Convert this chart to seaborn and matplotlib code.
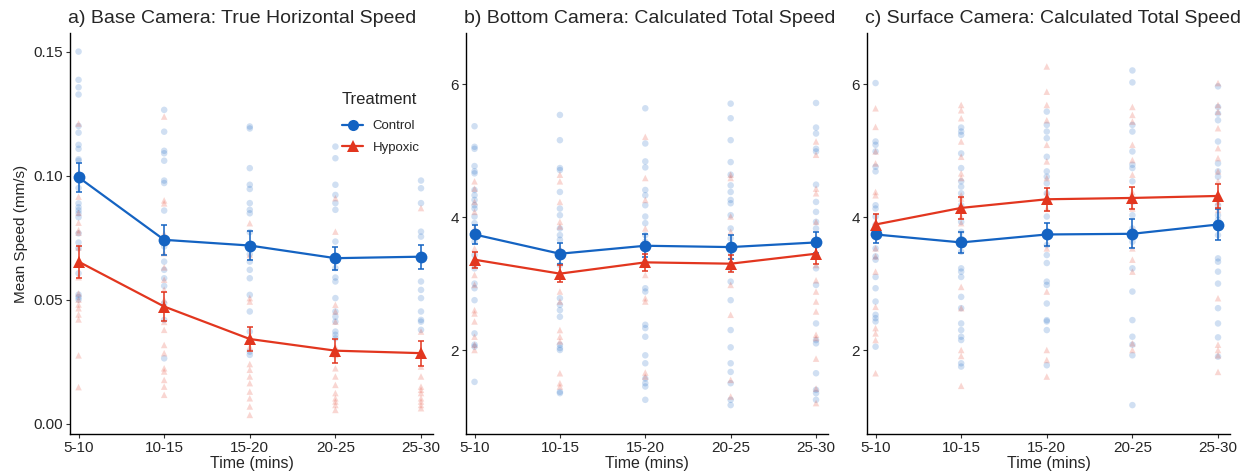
import numpy as np
import pandas as pd
import matplotlib
matplotlib.use("Agg")
import matplotlib.pyplot as plt
from matplotlib.lines import Line2D
import seaborn as sns

# ---------------------------------------------------------------- data
times = ["5-10", "10-15", "15-20", "20-25", "25-30"]
groups = ["Control", "Hypoxic"]

titles = [
    "a) Base Camera: True Horizontal Speed",
    "b) Bottom Camera: Calculated Total Speed",
    "c) Surface Camera: Calculated Total Speed",
]

# individual fish speeds, one list per time bin
base_control = [
    [0.150, 0.1386, 0.1356, 0.1327, 0.120, 0.1173, 0.1124, 0.1108, 0.1066, 0.106, 0.1003, 0.098,
     0.095, 0.0888, 0.0872, 0.086, 0.0848, 0.0832, 0.0767, 0.073, 0.0707, 0.0606, 0.052, 0.051, 0.050],
    [0.1265, 0.1177, 0.110, 0.109, 0.106, 0.098, 0.097, 0.0859, 0.074, 0.0714, 0.0653, 0.062,
     0.0586, 0.0555, 0.0485, 0.0418, 0.0263],
    [0.1198, 0.119, 0.103, 0.0963, 0.0946, 0.0889, 0.0862, 0.0848, 0.0772, 0.0683, 0.0653, 0.062,
     0.0586, 0.0519, 0.0452, 0.0371, 0.029, 0.0277],
    [0.1117, 0.107, 0.0963, 0.0922, 0.0889, 0.0862, 0.0734, 0.0627, 0.0589, 0.0573, 0.0506, 0.0452,
     0.0431, 0.0411, 0.0371, 0.0358, 0.0344],
    [0.098, 0.0949, 0.0889, 0.0774, 0.0754, 0.0673, 0.0573, 0.0539, 0.0506, 0.0452, 0.0418, 0.0411,
     0.0378],
]
base_hypoxic = [
    [0.121, 0.101, 0.0915, 0.085, 0.081, 0.078, 0.077, 0.071, 0.059, 0.0525, 0.050, 0.048, 0.0465,
     0.044, 0.042, 0.0275, 0.0147],
    [0.1238, 0.090, 0.0888, 0.0767, 0.074, 0.0687, 0.063, 0.058, 0.054, 0.050, 0.0465, 0.041, 0.0378,
     0.0317, 0.0284, 0.0223, 0.021, 0.0176, 0.0149, 0.0116],
    [0.0808, 0.068, 0.0506, 0.0492, 0.031, 0.024, 0.0217, 0.019, 0.0163, 0.0129, 0.0102, 0.0069,
     0.0035],
    [0.0909, 0.0774, 0.0479, 0.0452, 0.0411, 0.031, 0.0277, 0.0223, 0.019, 0.0156, 0.0123, 0.0102,
     0.0089, 0.0075, 0.0055],
    [0.0869, 0.0371, 0.023, 0.019, 0.0149, 0.0136, 0.0123, 0.0102, 0.0089, 0.0075, 0.0062],
]

bottom_control = [
    [5.37, 5.06, 5.03, 4.77, 4.69, 4.66, 4.41, 4.33, 4.26, 4.18, 4.13, 4.01, 3.91, 3.73, 3.63, 3.43,
     3.23, 3.00, 2.93, 2.75, 2.25, 2.08, 2.05, 1.52],
    [5.54, 5.16, 4.74, 4.71, 4.38, 4.13, 4.03, 3.83, 3.73, 3.66, 3.48, 3.28, 2.78, 2.68, 2.60, 2.50,
     2.08, 2.03, 2.00, 1.37, 1.35],
    [5.64, 5.11, 4.84, 4.75, 4.41, 4.33, 4.18, 4.01, 3.91, 3.73, 3.63, 3.33, 2.93, 2.88, 2.38, 2.33,
     2.20, 1.92, 1.80, 1.57, 1.50, 1.45, 1.25],
    [5.71, 5.49, 5.16, 4.83, 4.64, 4.48, 4.38, 4.26, 4.21, 4.03, 3.83, 3.68, 3.48, 3.23, 3.03, 2.75,
     2.30, 2.04, 1.80, 1.67, 1.50, 1.25, 1.17],
    [5.72, 5.35, 5.26, 5.03, 4.99, 4.49, 4.23, 4.08, 3.93, 3.83, 3.63, 3.43, 3.23, 2.98, 2.40, 2.15,
     2.10, 1.65, 1.40, 1.35, 1.25],
]
bottom_hypoxic = [
    [4.54, 4.43, 4.23, 4.08, 3.83, 3.53, 3.28, 3.13, 2.98, 2.60, 2.55, 2.43, 2.20, 2.08, 2.00],
    [4.64, 4.54, 4.23, 3.93, 3.86, 3.53, 3.13, 2.88, 2.73, 2.30, 2.20, 2.13, 1.65, 1.50, 1.45],
    [5.21, 4.59, 4.26, 3.83, 3.53, 3.33, 3.13, 2.78, 2.73, 1.66, 1.60],
    [4.64, 4.59, 4.01, 3.78, 3.41, 3.28, 2.98, 2.53, 1.55, 1.30],
    [5.14, 4.94, 4.43, 4.36, 3.93, 3.68, 3.28, 3.05, 2.88, 2.73, 2.58, 2.23, 2.18, 1.87, 1.42, 1.20],
]

surface_control = [
    [6.02, 5.14, 5.09, 4.99, 4.76, 4.69, 4.18, 4.13, 4.01, 3.88, 3.73, 3.53, 3.41, 3.36, 3.10, 2.93,
     2.73, 2.53, 2.48, 2.43, 2.05],
    [5.35, 5.29, 5.24, 4.96, 4.74, 4.54, 4.46, 4.36, 4.18, 3.93, 3.78, 3.68, 3.48, 3.23, 3.18, 3.10,
     2.80, 2.63, 2.40, 2.30, 2.20, 2.15, 1.80, 1.75],
    [5.59, 5.39, 5.29, 5.19, 4.91, 4.69, 4.61, 4.51, 4.36, 4.01, 3.73, 3.58, 3.43, 3.31, 3.03, 2.98,
     2.70, 2.45, 2.43, 2.30, 1.77],
    [6.21, 6.03, 5.39, 5.29, 4.99, 4.79, 4.74, 4.54, 4.23, 4.03, 3.83, 3.63, 3.23, 2.88, 2.45, 2.20,
     2.08, 1.92, 1.17],
    [5.97, 5.66, 5.56, 5.46, 5.14, 4.81, 4.69, 4.61, 4.18, 4.03, 3.96, 3.73, 3.38, 3.33, 3.18, 3.00,
     2.63, 2.40, 2.19, 1.90],
]
surface_hypoxic = [
    [5.64, 5.36, 4.99, 4.81, 4.38, 4.33, 3.93, 3.53, 3.41, 3.18, 2.65, 2.33, 2.25, 2.15, 1.65],
    [5.69, 5.61, 5.49, 5.14, 4.91, 4.66, 4.59, 4.33, 4.28, 4.13, 4.01, 3.91, 2.95, 2.63, 2.00, 1.91,
     1.46],
    [6.27, 5.89, 5.69, 5.46, 5.09, 4.84, 4.59, 4.38, 4.13, 3.53, 2.88, 2.00, 1.85, 1.60],
    [5.66, 5.54, 5.44, 5.09, 4.86, 4.64, 4.38, 4.13, 3.83, 3.53, 3.36, 3.18, 2.10, 2.00],
    [6.02, 5.69, 5.59, 5.34, 5.04, 4.89, 4.69, 4.54, 4.23, 4.11, 2.78, 2.08, 2.00, 1.92, 1.67],
]

# group means and standard errors per time bin
base_mean_control = [0.0993, 0.0741, 0.0718, 0.0667, 0.0673]
base_se_control = [0.0058, 0.0060, 0.0057, 0.0047, 0.0048]
base_mean_hypoxic = [0.0653, 0.0472, 0.0341, 0.0294, 0.0284]
base_se_hypoxic = [0.0064, 0.0060, 0.0049, 0.0048, 0.0050]

bottom_mean_control = [3.74, 3.45, 3.57, 3.55, 3.62]
bottom_se_control = [0.14, 0.16, 0.17, 0.18, 0.16]
bottom_mean_hypoxic = [3.36, 3.15, 3.32, 3.30, 3.45]
bottom_se_hypoxic = [0.12, 0.13, 0.13, 0.13, 0.15]

surface_mean_control = [3.74, 3.62, 3.74, 3.75, 3.89]
surface_se_control = [0.13, 0.16, 0.18, 0.22, 0.23]
surface_mean_hypoxic = [3.89, 4.14, 4.27, 4.29, 4.32]
surface_se_hypoxic = [0.16, 0.16, 0.17, 0.16, 0.18]

# ---------------------------------------------------------------- style
sns.set_theme(style="ticks")
plt.rcParams["font.family"] = ["Liberation Sans", "DejaVu Sans"]

palette = {"Control": "#1463C2", "Hypoxic": "#E2361F"}
markers = {"Control": "o", "Hypoxic": "^"}


def raw_frame(control, hypoxic):
    rows = []
    for name, series in (("Control", control), ("Hypoxic", hypoxic)):
        for i, vals in enumerate(series):
            for v in vals:
                rows.append({"Time": times[i], "pos": i, "Treatment": name, "speed": v})
    return pd.DataFrame(rows)


def mean_frame(mc, sc, mh, sh):
    rows = []
    for name, m, s in (("Control", mc, sc), ("Hypoxic", mh, sh)):
        for i in range(len(times)):
            rows.append({"Time": times[i], "pos": i, "Treatment": name, "mean": m[i], "se": s[i]})
    return pd.DataFrame(rows)


panels = [
    (raw_frame(base_control, base_hypoxic),
     mean_frame(base_mean_control, base_se_control, base_mean_hypoxic, base_se_hypoxic)),
    (raw_frame(bottom_control, bottom_hypoxic),
     mean_frame(bottom_mean_control, bottom_se_control, bottom_mean_hypoxic, bottom_se_hypoxic)),
    (raw_frame(surface_control, surface_hypoxic),
     mean_frame(surface_mean_control, surface_se_control, surface_mean_hypoxic, surface_se_hypoxic)),
]

W, H = 1255, 476
fig = plt.figure(figsize=(W / 100, H / 100), dpi=100)
boxes = [(70, 433), (466, 828), (867, 1230)]
top_px, bottom_px = 33, 434

axes = []
for (l, r) in boxes:
    axes.append(fig.add_axes([l / W, (H - bottom_px) / H, (r - l) / W, (bottom_px - top_px) / H]))

for k, (ax, (raw, means)) in enumerate(zip(axes, panels)):
    # individual observations
    sns.scatterplot(data=raw, x="pos", y="speed", hue="Treatment", style="Treatment",
                    palette=palette, markers=markers, hue_order=groups[::-1],
                    s=22, alpha=0.2, linewidth=0, legend=False, ax=ax)
    # error bars
    for g in groups:
        sub = means[means["Treatment"] == g]
        ax.errorbar(sub["pos"], sub["mean"], yerr=sub["se"], fmt="none",
                    ecolor=palette[g], elinewidth=1.1, capsize=2.2, capthick=1.1, zorder=3)
    # mean trajectories
    sns.lineplot(data=means, x="pos", y="mean", hue="Treatment", style="Treatment",
                 palette=palette, markers=markers, dashes=False, hue_order=groups,
                 markersize=8.5, markeredgewidth=0, linewidth=1.6, legend=False, ax=ax, zorder=4)

    ax.set_xticks(range(len(times)))
    ax.set_xticklabels(times)
    ax.set_xlim(-0.1, 4.14)
    ax.set_xlabel("Time (mins)", fontsize=11.5, labelpad=1)
    ax.set_title(titles[k], fontsize=14, pad=7, loc="left", x=-0.005)
    ax.tick_params(axis="both", labelsize=11, length=3, width=0.8, color="#333333", pad=2)
    for side in ("top", "right"):
        ax.spines[side].set_visible(False)
    for side in ("left", "bottom"):
        ax.spines[side].set_linewidth(1.0)
        ax.spines[side].set_color("black")

    if k == 0:
        ax.set_ylim(-0.0042, 0.1575)
        ax.set_yticks([0.00, 0.05, 0.10, 0.15])
        ax.set_yticklabels(["0.00", "0.05", "0.10", "0.15"])
        ax.set_ylabel("Mean Speed (mm/s)", fontsize=11, labelpad=4)
        handles = [
            Line2D([0], [0], color=palette[g], marker=markers[g], markersize=8,
                   markeredgewidth=0, linewidth=1.6) for g in groups
        ]
        leg = ax.legend(handles, groups, title="Treatment", loc="upper left",
                        bbox_to_anchor=(0.735, 0.865), frameon=False, fontsize=9.5,
                        title_fontsize=12, handlelength=1.6, handletextpad=0.7,
                        labelspacing=0.7, borderaxespad=0)
        leg._legend_box.align = "left"
        leg._legend_box.sep = 9
    else:
        ax.set_ylim(0.735, 6.774)
        ax.set_yticks([2, 4, 6])
        ax.set_ylabel("")

fig.savefig("out.png", dpi=100)
